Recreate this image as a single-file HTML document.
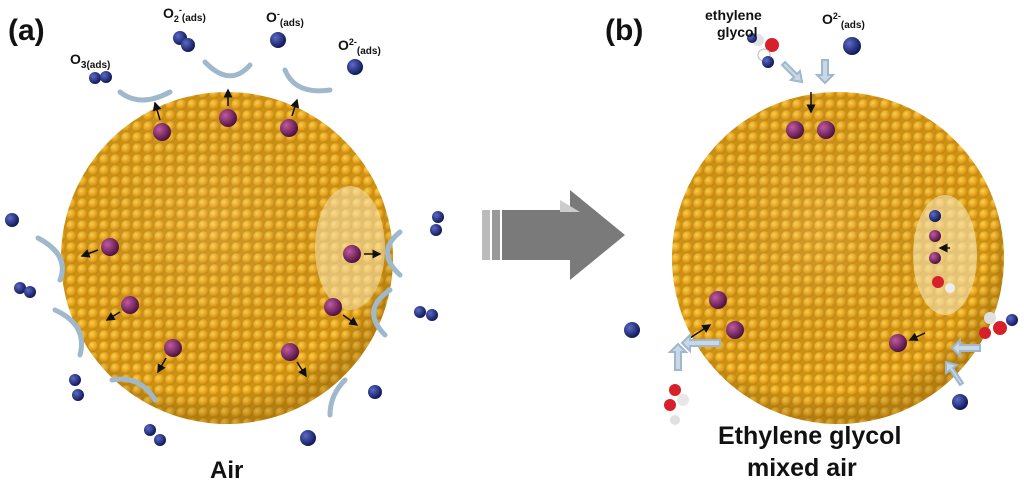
<!DOCTYPE html>
<html><head><meta charset="utf-8"><style>
html,body{margin:0;padding:0;background:#fff}
svg{display:block}
text{font-family:"Liberation Sans",Arial,sans-serif;font-weight:bold;fill:#111}
</style></head><body>
<svg width="1024" height="485" viewBox="0 0 1024 485" xmlns="http://www.w3.org/2000/svg">
<defs>
<radialGradient id="ball" cx="0.35" cy="0.35" r="0.7">
<stop offset="0" stop-color="#fcd050"/><stop offset="0.6" stop-color="#e8a41e"/><stop offset="1" stop-color="#c0840c"/>
</radialGradient>
<pattern id="tex" width="11" height="11" patternUnits="userSpaceOnUse">
<rect width="11" height="11" fill="#cc9214"/>
<circle cx="5.5" cy="5.5" r="5.2" fill="url(#ball)"/>
</pattern>
<radialGradient id="shade" cx="0.45" cy="0.4" r="0.6">
<stop offset="0" stop-color="#fff" stop-opacity="0.1"/><stop offset="0.85" stop-color="#000" stop-opacity="0"/><stop offset="1" stop-color="#5a3a00" stop-opacity="0.25"/>
</radialGradient>
<radialGradient id="pur" cx="0.35" cy="0.35" r="0.7">
<stop offset="0" stop-color="#c05aa0"/><stop offset="1" stop-color="#4a0e3a"/>
</radialGradient>
<radialGradient id="nav" cx="0.35" cy="0.35" r="0.7">
<stop offset="0" stop-color="#5a6ac8"/><stop offset="1" stop-color="#0c1450"/>
</radialGradient>
<marker id="ah" markerWidth="6" markerHeight="6" refX="5" refY="3" orient="auto"><path d="M0,0L6,3L0,6z" fill="#111"/></marker>
</defs>

<circle cx="227" cy="258" r="166" fill="url(#tex)"/>
<circle cx="227" cy="258" r="166" fill="url(#shade)"/>
<circle cx="838" cy="258" r="166" fill="url(#tex)"/>
<circle cx="838" cy="258" r="166" fill="url(#shade)"/>
<ellipse cx="350" cy="248" rx="35" ry="62" fill="#f5e6b8" opacity="0.55"/>
<ellipse cx="945" cy="255" rx="32" ry="60" fill="#f5e6b8" opacity="0.6"/>

<g fill="url(#pur)">
<circle cx="162" cy="132" r="9"/><circle cx="228" cy="118" r="9"/><circle cx="289" cy="128" r="9"/>
<circle cx="110" cy="247" r="9"/><circle cx="130" cy="305" r="9"/><circle cx="173" cy="348" r="9"/>
<circle cx="352" cy="254" r="9"/><circle cx="333" cy="307" r="9"/><circle cx="290" cy="352" r="9"/>
<circle cx="795" cy="130" r="9"/><circle cx="826" cy="130" r="9"/>
<circle cx="718" cy="300" r="9"/><circle cx="735" cy="330" r="9"/><circle cx="898" cy="343" r="9"/>
<circle cx="935" cy="236" r="6"/><circle cx="935" cy="258" r="6"/>
</g>
<g stroke="#111" stroke-width="1.5" marker-end="url(#ah)">
<line x1="160" y1="120" x2="155" y2="103"/><line x1="228" y1="106" x2="228" y2="90"/><line x1="292" y1="116" x2="297" y2="100"/>
<line x1="98" y1="250" x2="82" y2="256"/><line x1="120" y1="312" x2="107" y2="320"/><line x1="166" y1="358" x2="158" y2="372"/>
<line x1="364" y1="254" x2="380" y2="254"/><line x1="343" y1="315" x2="357" y2="325"/><line x1="297" y1="362" x2="306" y2="376"/>
<line x1="811" y1="92" x2="811" y2="112"/><line x1="690" y1="338" x2="710" y2="325"/><line x1="925" y1="333" x2="910" y2="340"/>
<line x1="950" y1="248" x2="940" y2="248"/>
</g>
<g fill="none" stroke="#9fb8cc" stroke-width="5" stroke-linecap="round">
<path d="M120,92 Q140,108 170,92"/><path d="M205,62 Q230,88 250,65"/><path d="M285,70 Q295,95 330,90"/>
<path d="M38,238 Q70,255 60,280"/><path d="M55,310 Q88,325 80,355"/><path d="M112,380 Q140,375 155,400"/>
<path d="M400,232 Q375,252 400,275"/><path d="M390,290 Q360,310 385,335"/><path d="M345,380 Q330,395 330,415"/>
</g>
<g fill="#c8d8e6" stroke="#9fb8cc" stroke-width="2">
<path d="M720,290 l-30,0 l0,-5 l-8,8 l8,8 l0,-5 l30,0z" transform="translate(0,50)"/>
<path d="M675,370 l0,-18 l-5,0 l8,-8 l8,8 l-5,0 l0,18z"/>
<path d="M980,345 l-20,0 l0,-5 l-8,8 l8,8 l0,-5 l20,0z"/>
<path d="M960,385 l-10,-15 l-4,3 l0,-11 l11,3 l-4,3 l10,15z"/>
<path d="M785,62 l12,12 l3,-3 l2,11 l-11,-2 l3,-3 l-12,-12z"/>
<path d="M830,60 l0,15 l-5,0 l8,8 l8,-8 l-5,0 l0,-15z" transform="translate(-8,0)"/>
</g>
<g fill="url(#nav)">
<circle cx="95" cy="78" r="6"/><circle cx="106" cy="77" r="6"/>
<circle cx="180" cy="38" r="7"/><circle cx="188" cy="45" r="7"/>
<circle cx="278" cy="40" r="8"/><circle cx="355" cy="67" r="8"/>
<circle cx="12" cy="220" r="7"/><circle cx="438" cy="217" r="6"/><circle cx="436" cy="230" r="6"/>
<circle cx="20" cy="288" r="6"/><circle cx="30" cy="292" r="6"/>
<circle cx="420" cy="312" r="6"/><circle cx="432" cy="315" r="6"/>
<circle cx="75" cy="380" r="6"/><circle cx="78" cy="395" r="6"/>
<circle cx="150" cy="430" r="6"/><circle cx="160" cy="440" r="6"/>
<circle cx="375" cy="392" r="7"/><circle cx="308" cy="438" r="8"/>
<circle cx="632" cy="330" r="8"/><circle cx="960" cy="402" r="8"/>
<circle cx="852" cy="46" r="9"/><circle cx="935" cy="216" r="6"/>
</g>
<g>
<circle cx="758" cy="40" r="6" fill="#e0e0e8"/><circle cx="772" cy="45" r="7" fill="#d8202a"/><circle cx="764" cy="55" r="6" fill="#fff" stroke="#bbb"/><circle cx="768" cy="62" r="6" fill="url(#nav)"/><circle cx="752" cy="38" r="5" fill="url(#nav)"/>
<circle cx="675" cy="390" r="6" fill="#d8202a"/><circle cx="683" cy="400" r="6" fill="#e8e8e8"/><circle cx="670" cy="405" r="6" fill="#d8202a"/><circle cx="675" cy="420" r="5" fill="#e0e0e0"/>
<circle cx="990" cy="318" r="6" fill="#e0e0e0"/><circle cx="1000" cy="328" r="7" fill="#d8202a"/><circle cx="1012" cy="320" r="6" fill="url(#nav)"/><circle cx="985" cy="333" r="6" fill="#d8202a"/>
<circle cx="938" cy="282" r="6" fill="#d8202a"/><circle cx="950" cy="288" r="5" fill="#eee"/>
</g>

<g>
<rect x="482" y="210" width="8" height="50" fill="#bbb"/>
<rect x="492" y="210" width="8" height="50" fill="#999"/>
<path d="M502,210 L570,210 L570,190 L625,235 L570,280 L570,260 L502,260 Z" fill="#7a7a7a"/>
<path d="M560,200 L580,212 L560,212Z" fill="#ccc"/>
</g>

<text x="8" y="40" font-size="30">(a)</text>
<text x="605" y="40" font-size="30">(b)</text>
<text x="70" y="64" font-size="14">O<tspan font-size="10" dy="4">3(ads)</tspan></text>
<text x="163" y="18" font-size="14">O<tspan font-size="9" dy="4">2</tspan><tspan font-size="9" dy="-9">-</tspan><tspan font-size="10" dy="8">(ads)</tspan></text>
<text x="266" y="22" font-size="14">O<tspan font-size="9" dy="-5">-</tspan><tspan font-size="10" dy="9">(ads)</tspan></text>
<text x="338" y="50" font-size="14">O<tspan font-size="9" dy="-5">2-</tspan><tspan font-size="10" dy="9">(ads)</tspan></text>
<text x="822" y="24" font-size="14">O<tspan font-size="9" dy="-5">2-</tspan><tspan font-size="10" dy="9">(ads)</tspan></text>
<text x="705" y="20" font-size="14">ethylene</text>
<text x="717" y="37" font-size="14">glycol</text>
<text x="210" y="478" font-size="24">Air</text>
<text x="718" y="444" font-size="25">Ethylene glycol</text>
<text x="747" y="476" font-size="25">mixed air</text>
</svg>
</body></html>
